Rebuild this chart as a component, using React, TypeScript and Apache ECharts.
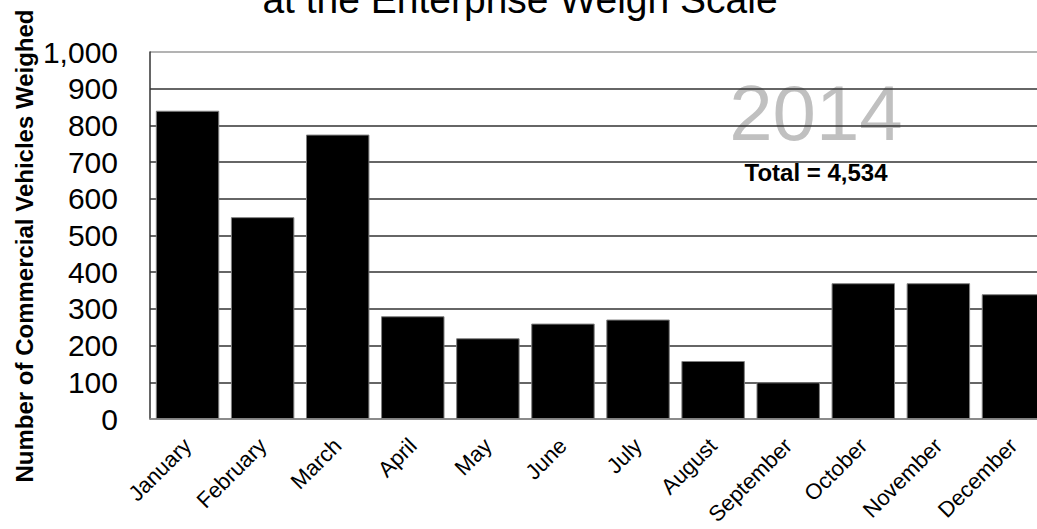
import React, { useEffect, useRef } from "react";
import * as echarts from "echarts";

const months = [
  "January", "February", "March", "April", "May", "June",
  "July", "August", "September", "October", "November", "December",
];
const vehicles = [840, 550, 775, 280, 220, 260, 271, 158, 100, 370, 370, 340];
const yTicks = [0, 100, 200, 300, 400, 500, 600, 700, 800, 900, 1000];
const titleLine = "at the Enterprise Weigh Scale";
const yAxisTitle = "Number of Commercial Vehicles Weighed";
const yearLabel = "2014";
const totalLabel = "Total = 4,534";

const FONT = "'Liberation Sans', Arial, sans-serif";

export default function App() {
  const ref = useRef<HTMLDivElement>(null);
  useEffect(() => {
    if (!ref.current) return;
    const chart = echarts.init(ref.current, undefined, { renderer: "svg" });
    const gridColors = yTicks.map((v) => (v === 1000 ? "#9a9a9a" : "#333333"));
    chart.setOption({
      animation: false,
      backgroundColor: "#ffffff",
      grid: { left: 150, right: 0, top: 52, bottom: 110, containLabel: false },
      xAxis: {
        type: "category",
        data: months,
        axisLine: { show: true, lineStyle: { color: "#999999", width: 1.5 } },
        axisTick: { show: false },
        axisLabel: {
          rotate: 45,
          interval: 0,
          margin: 23,
          fontSize: 22,
          fontFamily: FONT,
          color: "#000000",
        },
      },
      yAxis: {
        type: "value",
        min: 0,
        max: 1000,
        interval: 100,
        axisLine: { show: true, lineStyle: { color: "#333333", width: 1.5 } },
        axisTick: { show: false },
        splitLine: { show: true, lineStyle: { color: gridColors, width: 1.5 } },
        axisLabel: {
          margin: 32,
          fontSize: 30,
          fontFamily: FONT,
          color: "#000000",
          formatter: (v: number) => v.toLocaleString("en-US"),
        },
      },
      series: [
        {
          type: "bar",
          data: vehicles,
          barCategoryGap: "15.5%",
          itemStyle: { color: "#000000", borderColor: "#808080", borderWidth: 1 },
        },
      ],
      graphic: [
        {
          type: "text",
          x: 520,
          y: -1,
          style: {
            text: titleLine,
            fontSize: 39,
            fontFamily: FONT,
            fill: "#000000",
            align: "center",
            verticalAlign: "middle",
          },
        },
        {
          type: "text",
          x: 24,
          y: 246,
          rotation: Math.PI / 2,
          style: {
            text: yAxisTitle,
            fontSize: 24,
            fontWeight: "bold",
            fontFamily: FONT,
            fill: "#000000",
            align: "center",
            verticalAlign: "middle",
          },
        },
        {
          type: "text",
          x: 816,
          y: 113,
          style: {
            text: yearLabel,
            fontSize: 78,
            fontFamily: FONT,
            fill: "#c0c0c0",
            align: "center",
            verticalAlign: "middle",
          },
        },
        {
          type: "text",
          x: 816,
          y: 172,
          style: {
            text: totalLabel,
            fontSize: 24,
            fontWeight: "bold",
            fontFamily: FONT,
            fill: "#000000",
            align: "center",
            verticalAlign: "middle",
          },
        },
      ],
    });
    return () => chart.dispose();
  }, []);
  return (
    <div
      style={{ position: "absolute", left: 0, top: 0, width: 1037, height: 529, overflow: "hidden", background: "#fff" }}
    >
      <div ref={ref} style={{ width: 1051, height: 529 }} />
    </div>
  );
}
